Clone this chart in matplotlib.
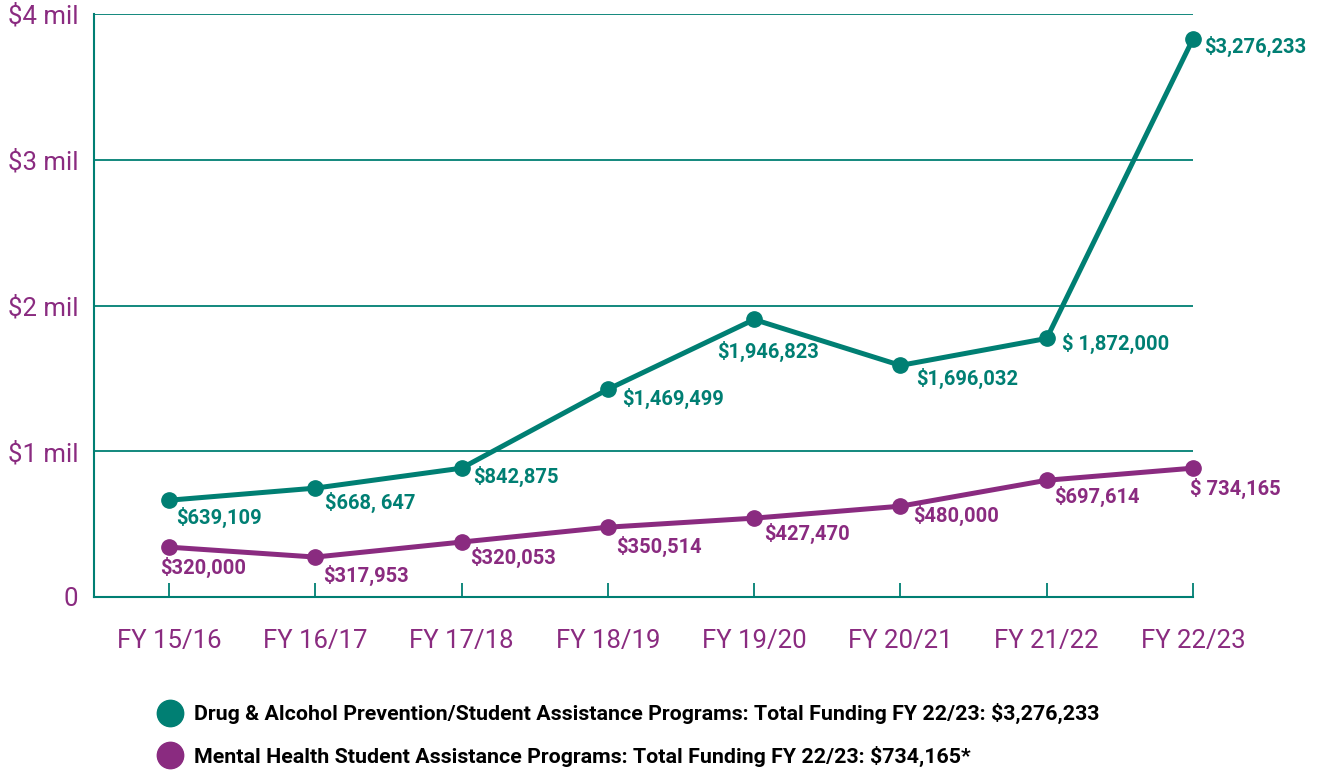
import matplotlib.pyplot as plt
from matplotlib.lines import Line2D

# years and values (plotted positions, in $ mil)
years = ["FY 15/16", "FY 16/17", "FY 17/18", "FY 18/19", "FY 19/20", "FY 20/21", "FY 21/22", "FY 22/23"]
drug = [0.664, 0.747, 0.884, 1.425, 1.904, 1.589, 1.774, 3.829]
mental = [0.342, 0.274, 0.377, 0.479, 0.541, 0.623, 0.801, 0.884]
drug_labels = ["$639,109", "$668, 647", "$842,875", "$1,469,499", "$1,946,823", "$1,696,032", "$ 1,872,000", "$3,276,233"]
mental_labels = ["$320,000", "$317,953", "$320,053", "$350,514", "$427,470", "$480,000", "$697,614", "$ 734,165"]
ytick_vals = [0, 1, 2, 3, 4]
ytick_labels = ["0", "$1 mil", "$2 mil", "$3 mil", "$4 mil"]
legend_labels = ["Drug & Alcohol Prevention/Student Assistance Programs: Total Funding FY 22/23: $3,276,233",
                 "Mental Health Student Assistance Programs: Total Funding FY 22/23: $734,165*"]

teal = "#007F73"
purple = "#8A2B80"
plt.rcParams['font.family'] = ['Roboto', 'DejaVu Sans']

fig = plt.figure(figsize=(13.21, 7.72), dpi=100)
ax = fig.add_axes([94 / 1321, 1 - 597 / 772, (1193 - 94) / 1321, (597 - 14) / 772])

x = list(range(len(years)))
ax.plot(x, drug, color=teal, lw=3.6, marker="o", ms=11, clip_on=False, zorder=3)
ax.plot(x, mental, color=purple, lw=3.6, marker="o", ms=11, clip_on=False, zorder=3)

# label offsets in pixels (dx, dy down)
drug_off = [(7, 17), (10, 14), (12, 8), (14, 9), (-37, 32), (16, 13), (15, 5), (11, 8)]
mental_off = [(-9, 20), (8, 18), (9, 15), (8, 19), (10, 15), (13, 9), (7, 16), (-3, 20)]
for i in x:
    ax.annotate(drug_labels[i], (i, drug[i]), xytext=(drug_off[i][0] * 0.72, -drug_off[i][1] * 0.72),
                textcoords="offset points", color=teal, fontsize=14.5, fontweight="bold",
                ha="left", va="center", annotation_clip=False)
    ax.annotate(mental_labels[i], (i, mental[i]), xytext=(mental_off[i][0] * 0.72, -mental_off[i][1] * 0.72),
                textcoords="offset points", color=purple, fontsize=14.5, fontweight="bold",
                ha="left", va="center", annotation_clip=False)

ax.set_xlim(-0.513, 7.0)
ax.set_ylim(0, 4)
ax.set_xticks(x)
ax.set_xticklabels(years)
ax.set_yticks(ytick_vals)
ax.set_yticklabels(ytick_labels)
ax.tick_params(axis="x", direction="in", length=10, width=1.3, color=teal, pad=23,
               labelsize=18.5, labelcolor=purple)
ax.tick_params(axis="y", length=0, pad=11.5, labelsize=18.5, labelcolor=purple)

ax.grid(axis="y", color=teal, lw=1.3)
ax.set_axisbelow(True)
for s in ["top", "right"]:
    ax.spines[s].set_visible(False)
for s in ["left", "bottom"]:
    ax.spines[s].set_color(teal)
    ax.spines[s].set_linewidth(1.5)

handles = [Line2D([], [], ls="", marker="o", ms=19, color=teal),
           Line2D([], [], ls="", marker="o", ms=19, color=purple)]
leg = fig.legend(handles, legend_labels, loc="upper left", bbox_to_anchor=(138 / 1321, 1 - 684 / 772),
                 frameon=False, fontsize=15.4, handletextpad=0.5, labelspacing=1.0, handlelength=1.2)
for t in leg.get_texts():
    t.set_fontweight("bold")

fig.savefig("out.png", dpi=100)
